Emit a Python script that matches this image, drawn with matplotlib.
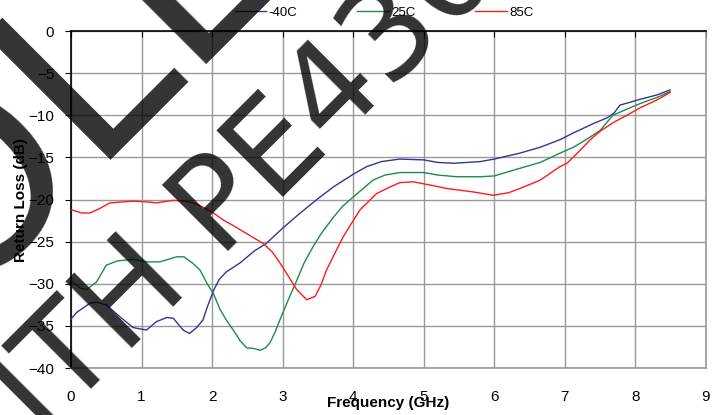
import matplotlib
matplotlib.use("Agg")
import matplotlib.pyplot as plt

plt.rcParams["font.family"] = ["Liberation Sans", "DejaVu Sans"]

# -40C
freq_cold = [0, 0.08, 0.27, 0.37, 0.5, 0.69, 0.88, 1.07, 1.21, 1.36, 1.45, 1.59, 1.68,
             1.78, 1.87, 1.93, 2.02, 2.1, 2.2, 2.4, 2.6, 2.77, 3.0, 3.25, 3.5, 3.72,
             4.0, 4.19, 4.4, 4.66, 5.0, 5.2, 5.42, 5.8, 6.0, 6.36, 6.65, 6.93, 7.12,
             7.4, 7.6, 7.7, 7.78, 8.07, 8.3, 8.49]
rl_cold = [-34.2, -33.4, -32.3, -32.2, -32.5, -33.9, -35.2, -35.5, -34.5, -34.0, -34.1,
           -35.5, -35.9, -35.2, -34.3, -32.8, -30.8, -29.5, -28.6, -27.5, -26.1, -25.2,
           -23.4, -21.6, -19.9, -18.5, -17.0, -16.1, -15.5, -15.2, -15.3, -15.6, -15.7,
           -15.5, -15.2, -14.5, -13.8, -12.9, -12.1, -11.0, -10.3, -9.7, -8.8, -8.1,
           -7.6, -7.0]

# 25C
freq_room = [0, 0.13, 0.22, 0.36, 0.5, 0.65, 0.88, 1.07, 1.26, 1.5, 1.6, 1.73, 1.83,
             1.93, 2.02, 2.11, 2.2, 2.3, 2.4, 2.49, 2.6, 2.68, 2.76, 2.82, 2.9, 2.96,
             3.08, 3.2, 3.3, 3.43, 3.55, 3.72, 3.85, 4.0, 4.28, 4.45, 4.66, 5.0, 5.2,
             5.47, 5.8, 6.0, 6.36, 6.65, 6.93, 7.12, 7.3, 7.5, 7.6, 7.68, 7.9, 8.07,
             8.3, 8.49]
rl_room = [-29.6, -30.5, -30.7, -29.8, -27.8, -27.3, -27.1, -27.4, -27.4, -26.8, -26.8,
           -27.6, -28.4, -30.0, -31.2, -33.0, -34.3, -35.5, -36.8, -37.6, -37.7, -37.9,
           -37.6, -37.0, -35.6, -34.3, -31.9, -29.6, -27.6, -25.6, -24.0, -22.1, -20.8,
           -19.7, -17.7, -17.1, -16.8, -16.8, -17.1, -17.3, -17.3, -17.2, -16.3, -15.6,
           -14.5, -13.8, -12.9, -11.8, -10.8, -10.0, -9.2, -8.6, -7.9, -7.2]

# 85C
freq_hot = [0, 0.15, 0.27, 0.4, 0.55, 0.88, 1.1, 1.21, 1.45, 1.6, 1.73, 1.87, 2.02,
            2.15, 2.3, 2.44, 2.72, 2.85, 2.96, 3.08, 3.2, 3.34, 3.46, 3.55, 3.62, 3.75,
            3.86, 4.0, 4.1, 4.33, 4.5, 4.66, 4.85, 5.1, 5.33, 5.7, 5.98, 6.2, 6.36,
            6.65, 6.93, 7.03, 7.2, 7.36, 7.5, 7.68, 7.9, 8.07, 8.3, 8.49]
rl_hot = [-21.2, -21.6, -21.6, -21.1, -20.4, -20.2, -20.3, -20.4, -20.1, -20.2, -20.4,
          -20.9, -21.6, -22.4, -23.1, -23.8, -25.2, -26.2, -27.5, -29.1, -30.7, -31.9,
          -31.5, -30.0, -28.4, -26.2, -24.4, -22.5, -21.2, -19.3, -18.6, -18.0, -17.9,
          -18.3, -18.7, -19.1, -19.5, -19.2, -18.7, -17.7, -16.1, -15.7, -14.3, -12.9,
          -11.9, -10.9, -9.9, -9.1, -8.2, -7.3]

series_labels = ["-40C", "25C", "85C"]
series_colors = ["#333399", "#1f8a4c", "#ff1a1a"]
x_ticks = list(range(0, 10))
y_ticks = list(range(-40, 1, 5))

W, H = 724, 415
fig = plt.figure(figsize=(W / 100, H / 100), dpi=100)
fig.patch.set_facecolor("white")
ax = fig.add_axes([71 / W, 1 - 368 / H, (706 - 71) / W, (368 - 31) / H])

for f, rl, lab, col in zip([freq_cold, freq_room, freq_hot],
                           [rl_cold, rl_room, rl_hot],
                           series_labels, series_colors):
    ax.plot(f, rl, color=col, lw=1.0, label=lab, zorder=3)

ax.set_xlim(0, 9)
ax.set_ylim(-40, 0)
ax.set_xticks(x_ticks)
ax.set_yticks(y_ticks)
ax.grid(True, color="#999999", lw=1.0, zorder=1)
ax.set_axisbelow(True)

# x axis crosses at 0 dB (top), labels stay at the bottom
ax.tick_params(axis="x", bottom=False, top=True, labelbottom=True, labeltop=False,
               direction="in", length=4, color="black", labelsize=11, pad=16)
ax.tick_params(axis="y", direction="out", length=4, color="black", labelsize=11, pad=8)
ax.spines["top"].set_color("black")
ax.spines["left"].set_color("black")
ax.spines["right"].set_color("#999999")
ax.spines["bottom"].set_color("#999999")
for s in ax.spines.values():
    s.set_linewidth(1.2)

ax.set_xlabel("Frequency (GHz)", fontsize=11, fontweight="bold", labelpad=-6)
ax.set_ylabel("Return Loss (dB)", fontsize=11, fontweight="bold", labelpad=0)

fig.legend(loc="center", bbox_to_anchor=(384 / W, 1 - 13 / H), ncol=3, frameon=False,
           fontsize=9.5, handlelength=2.4, handletextpad=0.2, columnspacing=4.5)

# watermark
fig.text(-404 / W, 1 - 661 / H, "OBSOLETE", rotation=45, rotation_mode="anchor",
         ha="left", va="baseline", fontsize=175, color="black", alpha=0.8,
         family="DejaVu Sans", zorder=10)
fig.text(-47 / W, 1 - 528 / H, "WITH PE4302", rotation=45, rotation_mode="anchor",
         ha="left", va="baseline", fontsize=92, color="black", alpha=0.8,
         family="DejaVu Sans", zorder=10)

fig.savefig("out.png", dpi=100)
